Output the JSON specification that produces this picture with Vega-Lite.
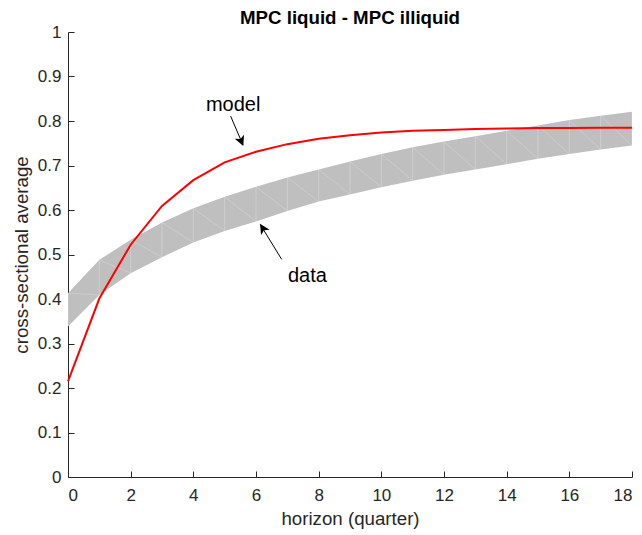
{
  "$schema": "https://vega.github.io/schema/vega-lite/v6.json",
  "autosize": "none",
  "padding": {"left": 68, "top": 32, "right": 10, "bottom": 58},
  "width": 564,
  "height": 445,
  "background": "white",
  "title": {"text": "MPC liquid - MPC illiquid", "font": "Liberation Sans", "fontSize": 18.7, "fontWeight": "bold", "color": "#000000", "anchor": "middle", "offset": 5, "dy": 10},
  "config": {
    "view": {"stroke": null},
    "axis": {"domainColor": "#262626", "tickColor": "#262626", "labelColor": "#262626", "titleColor": "#262626", "labelFont": "Liberation Sans", "titleFont": "Liberation Sans", "labelFontSize": 17, "titleFontSize": 18.7, "titleFontWeight": "normal", "grid": false, "domainWidth": 1, "tickWidth": 1}
  },
  "datasets": {
    "series": [
      {"h": 0, "lo": 0.338, "hi": 0.413, "model": 0.215},
      {"h": 1, "lo": 0.409, "hi": 0.488, "model": 0.401},
      {"h": 2, "lo": 0.458, "hi": 0.533, "model": 0.522},
      {"h": 3, "lo": 0.494, "hi": 0.572, "model": 0.609},
      {"h": 4, "lo": 0.527, "hi": 0.604, "model": 0.667},
      {"h": 5, "lo": 0.553, "hi": 0.630, "model": 0.707},
      {"h": 6, "lo": 0.574, "hi": 0.652, "model": 0.731},
      {"h": 7, "lo": 0.598, "hi": 0.673, "model": 0.748},
      {"h": 8, "lo": 0.619, "hi": 0.691, "model": 0.760},
      {"h": 9, "lo": 0.635, "hi": 0.709, "model": 0.768},
      {"h": 10, "lo": 0.651, "hi": 0.726, "model": 0.774},
      {"h": 11, "lo": 0.666, "hi": 0.741, "model": 0.778},
      {"h": 12, "lo": 0.679, "hi": 0.754, "model": 0.780},
      {"h": 13, "lo": 0.691, "hi": 0.766, "model": 0.782},
      {"h": 14, "lo": 0.703, "hi": 0.778, "model": 0.783},
      {"h": 15, "lo": 0.715, "hi": 0.790, "model": 0.784},
      {"h": 16, "lo": 0.726, "hi": 0.802, "model": 0.784},
      {"h": 17, "lo": 0.736, "hi": 0.812, "model": 0.785},
      {"h": 18, "lo": 0.745, "hi": 0.821, "model": 0.785}
    ],
    "labels": [
      {"x": 5.27, "y": 0.822, "label": "model"},
      {"x": 7.64, "y": 0.439, "label": "data"}
    ],
    "shafts": [
      {"x": 5.19, "y": 0.811, "x2": 5.58, "y2": 0.747},
      {"x": 6.82, "y": 0.489, "x2": 6.14, "y2": 0.567}
    ]
  },
  "layer": [
    {
      "data": {"name": "series"},
      "mark": {"type": "area", "color": "#bfbfbf", "opacity": 1},
      "encoding": {
        "x": {"field": "h", "type": "quantitative", "scale": {"domain": [0, 18], "nice": false, "zero": false},
          "axis": {"title": "horizon (quarter)", "values": [0, 2, 4, 6, 8, 10, 12, 14, 16, 18], "tickSize": -6, "labelPadding": 16, "titlePadding": 6}},
        "y": {"field": "lo", "type": "quantitative", "scale": {"domain": [0, 1], "nice": false},
          "axis": {"title": "cross-sectional average", "values": [0, 0.1, 0.2, 0.3, 0.4, 0.5, 0.6, 0.7, 0.8, 0.9, 1], "format": "~g", "tickSize": -6, "labelPadding": 13, "titlePadding": 6}},
        "y2": {"field": "hi"}
      }
    },
    {
      "data": {"name": "series"},
      "mark": {"type": "rule", "color": "white", "opacity": 0.3, "strokeWidth": 0.8},
      "encoding": {
        "x": {"field": "h", "type": "quantitative"},
        "y": {"field": "lo", "type": "quantitative"},
        "y2": {"field": "hi"}
      }
    },
    {
      "data": {"name": "series"},
      "transform": [
        {"window": [{"op": "lead", "field": "lo", "as": "lonext"}, {"op": "lead", "field": "h", "as": "hnext"}], "sort": [{"field": "h"}], "frame": [null, null]},
        {"filter": "datum.hnext != null"}
      ],
      "mark": {"type": "rule", "color": "white", "opacity": 0.25, "strokeWidth": 0.8},
      "encoding": {
        "x": {"field": "h", "type": "quantitative"},
        "y": {"field": "hi", "type": "quantitative"},
        "x2": {"field": "hnext"},
        "y2": {"field": "lonext"}
      }
    },
    {
      "data": {"name": "series"},
      "mark": {"type": "line", "color": "#ff0000", "strokeWidth": 2},
      "encoding": {
        "x": {"field": "h", "type": "quantitative"},
        "y": {"field": "model", "type": "quantitative"}
      }
    },
    {
      "data": {"name": "labels"},
      "mark": {"type": "text", "font": "Liberation Sans", "fontSize": 20, "color": "#000000", "align": "center", "baseline": "alphabetic"},
      "encoding": {
        "x": {"field": "x", "type": "quantitative"},
        "y": {"field": "y", "type": "quantitative"},
        "text": {"field": "label"}
      }
    },
    {
      "data": {"name": "shafts"},
      "mark": {"type": "rule", "color": "#000000", "strokeWidth": 1},
      "encoding": {
        "x": {"field": "x", "type": "quantitative"},
        "y": {"field": "y", "type": "quantitative"},
        "x2": {"field": "x2"},
        "y2": {"field": "y2"}
      }
    },
    {
      "data": {"values": [{"x": 5.595, "y": 0.744}]},
      "mark": {"type": "point", "filled": true, "color": "#000000", "opacity": 1, "shape": "M0,0 L0.5,1 L0,0.75 L-0.5,1 Z", "size": 400, "angle": 157},
      "encoding": {
        "x": {"field": "x", "type": "quantitative"},
        "y": {"field": "y", "type": "quantitative"}
      }
    },
    {
      "data": {"values": [{"x": 6.128, "y": 0.569}]},
      "mark": {"type": "point", "filled": true, "color": "#000000", "opacity": 1, "shape": "M0,0 L0.5,1 L0,0.75 L-0.5,1 Z", "size": 400, "angle": 328},
      "encoding": {
        "x": {"field": "x", "type": "quantitative"},
        "y": {"field": "y", "type": "quantitative"}
      }
    }
  ]
}
